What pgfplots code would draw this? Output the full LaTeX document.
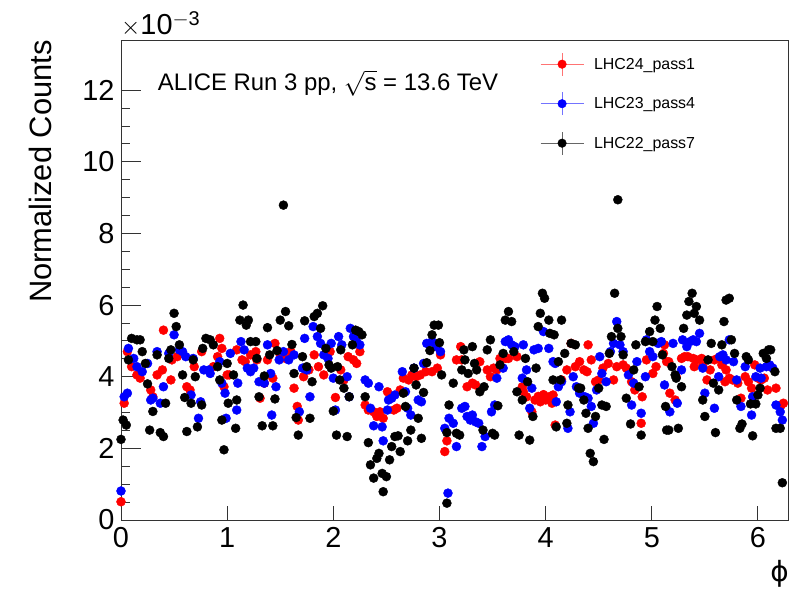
\documentclass[border=0pt]{standalone}
\usepackage{pgfplots}
\pgfplotsset{compat=1.18}
\usepackage{fontspec}
\setmainfont{Liberation Sans}
\newfontfamily\djv{DejaVu Sans}
\pgfplotstableread{
x y
0.00 0.51
0.03 3.26
0.06 4.70
0.10 4.28
0.15 4.05
0.18 3.96
0.28 3.63
0.30 3.44
0.34 4.05
0.39 4.19
0.40 5.30
0.47 3.91
0.48 4.47
0.53 4.56
0.62 3.72
0.65 3.63
0.69 4.28
0.76 4.70
0.87 4.28
0.91 4.56
0.93 5.07
0.95 4.79
0.97 3.72
1.00 4.05
1.02 4.05
1.09 4.75
1.14 4.47
1.17 4.42
1.22 4.61
1.27 4.70
1.28 4.47
1.31 3.40
1.35 3.82
1.38 4.47
1.43 3.96
1.45 4.93
1.50 4.61
1.55 4.51
1.60 4.70
1.63 3.68
1.66 3.17
1.67 2.79
1.72 4.00
1.77 4.19
1.82 4.61
1.86 4.28
1.91 4.05
1.97 4.70
2.02 3.42
2.07 4.19
2.10 3.91
2.14 4.56
2.19 4.47
2.22 4.37
2.25 4.70
2.30 3.21
2.33 3.07
2.38 3.02
2.41 2.89
2.44 3.02
2.47 2.84
2.51 3.58
2.54 3.40
2.57 3.07
2.60 3.12
2.63 3.63
2.66 3.96
2.71 3.91
2.74 4.05
2.78 4.00
2.82 4.05
2.87 4.14
2.93 4.14
2.98 4.24
3.01 4.61
3.05 1.91
3.07 2.21
3.16 4.47
3.20 4.84
3.21 4.47
3.26 3.72
3.31 3.82
3.34 3.77
3.38 4.42
3.45 4.19
3.48 4.00
3.51 4.24
3.54 4.19
3.57 4.51
3.62 4.51
3.65 4.51
3.73 4.56
3.78 3.72
3.79 3.58
3.82 3.44
3.87 3.02
3.90 3.35
3.93 3.45
3.95 3.30
3.98 3.50
4.00 3.35
4.03 3.44
4.06 3.26
4.07 3.49
4.09 2.65
4.15 3.91
4.20 4.19
4.24 4.93
4.28 4.28
4.32 4.42
4.36 4.19
4.39 4.14
4.40 4.89
4.43 4.47
4.47 3.86
4.50 3.91
4.54 4.24
4.59 4.37
4.64 3.91
4.67 4.28
4.73 4.33
4.76 4.24
4.81 3.86
4.84 3.63
4.90 2.70
4.91 3.44
4.95 4.47
5.01 4.09
5.04 4.28
5.11 4.65
5.12 4.89
5.14 4.42
5.16 4.42
5.17 3.54
5.22 3.35
5.23 4.00
5.28 4.51
5.31 4.56
5.34 4.56
5.39 4.51
5.40 4.28
5.42 4.47
5.47 4.51
5.48 4.33
5.52 3.91
5.55 4.19
5.59 4.47
5.62 4.51
5.66 4.33
5.69 3.86
5.70 4.19
5.73 3.96
5.76 3.91
5.81 3.82
5.84 3.40
5.88 4.00
5.91 3.86
5.94 3.68
5.97 4.33
6.00 3.96
6.03 3.91
6.06 3.96
6.09 3.63
6.12 4.28
6.17 3.68
6.22 3.21
6.24 3.26
}\redtab
\pgfplotstableread{
x y
0.00 0.81
0.03 3.44
0.06 3.54
0.07 4.79
0.12 4.51
0.15 4.28
0.20 4.14
0.25 4.37
0.28 3.35
0.30 3.40
0.34 4.70
0.37 3.26
0.40 3.72
0.45 4.65
0.50 5.17
0.55 4.75
0.58 4.70
0.61 4.56
0.66 3.49
0.68 4.51
0.73 2.84
0.75 3.30
0.78 4.19
0.83 4.19
0.84 4.09
0.93 4.42
0.95 3.82
0.98 3.54
0.99 2.84
1.03 4.65
1.09 3.07
1.10 3.82
1.13 4.98
1.16 4.75
1.19 4.24
1.22 4.14
1.25 4.24
1.30 3.86
1.35 3.82
1.38 4.89
1.41 4.09
1.42 2.93
1.46 3.72
1.49 4.47
1.53 4.70
1.58 4.47
1.63 4.61
1.68 3.02
1.71 4.24
1.73 5.07
1.75 4.19
1.78 3.44
1.81 5.40
1.85 5.12
1.88 4.93
1.91 4.61
1.95 4.51
1.98 4.93
2.00 3.96
2.02 3.07
2.05 5.12
2.08 4.89
2.13 4.00
2.15 3.44
2.16 5.35
2.19 5.12
2.22 4.98
2.25 4.89
2.30 3.91
2.33 3.82
2.35 3.12
2.38 2.63
2.43 3.72
2.46 2.60
2.47 2.21
2.51 3.07
2.52 3.35
2.55 3.40
2.58 3.49
2.65 4.14
2.68 3.58
2.70 3.12
2.73 2.93
2.76 4.24
2.80 3.35
2.83 3.30
2.85 4.37
2.88 4.93
2.93 4.98
2.97 4.84
3.01 4.70
3.05 2.56
3.08 0.75
3.09 2.84
3.13 2.70
3.16 2.05
3.21 3.12
3.24 3.17
3.26 2.89
3.29 2.79
3.31 2.93
3.34 2.74
3.37 2.70
3.40 2.05
3.43 2.33
3.49 3.02
3.52 3.21
3.54 3.96
3.60 4.24
3.62 4.98
3.65 5.03
3.68 4.89
3.71 4.84
3.78 3.96
3.79 4.89
3.82 4.19
3.85 3.12
3.87 3.68
3.89 4.75
3.93 4.79
3.98 5.26
4.03 4.79
4.07 4.42
4.09 4.37
4.10 3.30
4.12 3.72
4.15 3.86
4.21 2.56
4.23 3.02
4.26 4.00
4.29 3.72
4.32 3.54
4.37 3.44
4.40 3.40
4.43 3.17
4.45 2.70
4.48 3.63
4.51 4.56
4.53 4.09
4.57 3.86
4.61 4.70
4.64 4.93
4.67 5.54
4.70 4.89
4.73 4.70
4.78 4.05
4.81 3.21
4.83 3.82
4.86 4.42
4.90 2.98
4.94 4.00
4.95 5.03
4.98 4.70
5.01 4.56
5.06 4.93
5.09 4.98
5.12 3.77
5.17 3.02
5.20 4.93
5.24 3.26
5.28 4.19
5.29 5.03
5.33 4.84
5.36 4.98
5.39 5.03
5.42 4.98
5.45 5.21
5.48 4.24
5.50 3.54
5.59 3.12
5.63 4.00
5.64 4.56
5.67 4.61
5.70 4.47
5.73 5.03
5.77 4.42
5.80 3.91
5.84 3.17
5.88 4.28
5.94 2.93
5.95 3.44
5.98 4.00
6.02 4.24
6.03 3.96
6.08 4.28
6.11 4.33
6.14 4.24
6.17 3.21
6.21 3.02
6.23 2.79
}\bluetab
\pgfplotstableread{
x y
0.00 2.25
0.02 2.79
0.05 2.65
0.07 4.47
0.10 5.07
0.15 5.03
0.18 5.03
0.20 4.70
0.23 4.37
0.25 3.80
0.27 2.51
0.30 3.03
0.34 4.61
0.37 2.44
0.40 2.33
0.42 3.26
0.45 4.51
0.47 4.75
0.50 5.77
0.52 5.40
0.55 4.89
0.58 4.05
0.60 3.42
0.62 2.47
0.66 3.26
0.68 4.47
0.70 4.00
0.72 2.60
0.76 3.21
0.77 4.79
0.80 5.07
0.84 5.03
0.87 4.89
0.91 4.28
0.93 3.91
0.95 2.79
0.97 1.96
1.00 4.37
1.01 3.26
1.06 4.05
1.08 2.56
1.09 3.35
1.12 5.58
1.15 6.00
1.18 5.44
1.20 5.58
1.22 4.98
1.27 4.98
1.28 4.51
1.30 3.44
1.33 2.63
1.35 4.02
1.38 5.37
1.40 4.61
1.43 2.63
1.45 3.38
1.47 4.73
1.50 5.58
1.53 8.79
1.55 5.82
1.58 5.42
1.61 4.90
1.63 4.09
1.65 2.86
1.67 2.37
1.71 4.56
1.73 5.56
1.75 4.28
1.78 2.84
1.80 3.86
1.82 5.68
1.85 5.77
1.88 5.35
1.90 5.98
1.93 4.79
1.96 4.33
1.98 4.24
2.00 3.04
2.03 2.37
2.04 4.28
2.06 3.91
2.07 4.75
2.10 3.68
2.13 2.33
2.15 3.44
2.18 4.89
2.21 5.30
2.24 5.26
2.27 5.17
2.30 3.44
2.33 2.16
2.35 1.54
2.38 1.17
2.41 1.72
2.43 1.86
2.46 1.30
2.47 0.79
2.50 1.21
2.53 1.68
2.55 2.05
2.58 2.33
2.61 2.35
2.63 1.91
2.66 3.54
2.68 3.17
2.70 2.21
2.73 2.51
2.76 4.24
2.78 3.77
2.80 2.84
2.83 2.28
2.85 3.56
2.88 4.39
2.91 4.73
2.93 5.17
2.95 5.44
2.99 5.44
3.00 4.95
3.02 4.05
3.07 0.47
3.07 2.44
3.09 3.21
3.13 3.82
3.16 2.42
3.19 2.37
3.21 4.19
3.23 4.75
3.24 4.47
3.27 4.09
3.31 4.84
3.33 4.37
3.35 4.19
3.38 3.58
3.41 2.51
3.42 3.72
3.45 4.75
3.48 5.03
3.50 2.42
3.52 2.37
3.55 3.19
3.57 4.33
3.60 4.65
3.62 5.58
3.65 5.82
3.68 5.54
3.70 4.70
3.73 3.58
3.75 2.37
3.78 3.35
3.81 4.51
3.83 3.86
3.85 2.23
3.88 2.89
3.91 4.24
3.93 5.40
3.95 5.77
3.97 6.33
3.99 6.19
4.03 5.58
4.04 5.21
4.07 3.91
4.08 5.17
4.10 2.60
4.12 4.42
4.14 3.91
4.15 5.58
4.18 4.65
4.20 2.70
4.21 3.21
4.24 4.93
4.28 4.89
4.31 3.68
4.33 3.68
4.36 3.35
4.38 2.98
4.40 2.56
4.42 1.86
4.45 1.63
4.47 2.89
4.50 3.68
4.53 3.21
4.55 2.25
4.57 3.17
4.60 4.65
4.62 5.12
4.65 6.33
4.68 8.94
4.68 5.35
4.71 5.12
4.73 4.61
4.76 3.40
4.80 2.68
4.83 4.19
4.85 4.89
4.88 3.72
4.90 2.37
4.94 4.98
4.98 5.26
5.01 4.98
5.03 5.58
5.05 5.96
5.08 5.35
5.10 4.61
5.13 3.17
5.14 2.51
5.16 2.51
5.19 4.28
5.22 4.05
5.23 3.96
5.25 2.56
5.28 3.72
5.30 5.35
5.33 5.72
5.35 6.10
5.38 6.33
5.40 5.77
5.42 5.96
5.45 5.58
5.48 3.35
5.50 2.89
5.53 4.47
5.56 4.93
5.58 3.82
5.60 2.44
5.63 3.63
5.66 4.89
5.68 5.54
5.70 6.14
5.73 6.19
5.75 5.03
5.78 4.65
5.80 3.35
5.83 2.56
5.85 2.68
5.89 4.56
5.91 4.47
5.93 3.24
5.95 2.35
5.98 3.24
6.00 3.49
6.02 3.68
6.05 4.65
6.08 4.51
6.10 4.75
6.12 4.75
6.16 4.14
6.17 2.56
6.21 2.56
6.23 1.04
}\blacktab
\begin{document}
\begin{tikzpicture}
\begin{axis}[
  scale only axis,
  width=667bp, height=480bp,
  xmin=0, xmax=6.2832,
  ymin=0, ymax=13.4,
  axis line style={line width=0.9bp, black!80},
  xtick=\empty,
  minor xtick={0.2,0.4,0.6,0.8,1.2,1.4,1.6,1.8,2.2,2.4,2.6,2.8,3.2,3.4,3.6,3.8,4.2,4.4,4.6,4.8,5.2,5.4,5.6,5.8,6.2},
  extra x ticks={0,1,2,3,4,5,6},
  extra x tick style={major tick length=14bp},
  ytick={0,2,...,12},
  minor y tick num=3,
  major tick length=20bp, minor tick length=8.5bp,
  tick align=inside,
  xtick pos=bottom, ytick pos=left,
  tick style={line width=0.9bp, black!80},
  ticklabel style={font=\fontsize{29}{29}\selectfont},
  /pgf/number format/assume math mode=true,
  xticklabel style={yshift=-4bp},
  yticklabel style={xshift=-3bp},
  legend cell align=left,
  legend style={draw=none, fill=none, at={(rel axis cs:0.628,0.975)}, anchor=north west,
    font=\fontsize{16}{16}\selectfont, row sep=15.5bp, inner sep=0pt,
    nodes={inner sep=2bp}},
  clip=true,
]
\addplot[only marks, mark=*, mark size=4.5bp, color=red,
  legend image code/.code={\draw[red!55, line width=1bp] (0bp,0bp) -- (43bp,0bp);
    \draw[red!55, line width=1bp] (21.5bp,-11.5bp) -- (21.5bp,11.5bp);
    \fill[red] (21.5bp,0bp) circle (4.3bp);}]
  table[x=x,y=y] {\redtab};
\addlegendentry{\hspace{8bp}LHC24\_pass1}
\addplot[only marks, mark=*, mark size=4.5bp, color=blue,
  legend image code/.code={\draw[blue!55, line width=1bp] (0bp,0bp) -- (43bp,0bp);
    \draw[blue!55, line width=1bp] (21.5bp,-11.5bp) -- (21.5bp,11.5bp);
    \fill[blue] (21.5bp,0bp) circle (4.3bp);}]
  table[x=x,y=y] {\bluetab};
\addlegendentry{\hspace{8bp}LHC23\_pass4}
\addplot[only marks, mark=*, mark size=4.5bp, color=black,
  legend image code/.code={\draw[black!60, line width=1bp] (0bp,0bp) -- (43bp,0bp);
    \draw[black!60, line width=1bp] (21.5bp,-11.5bp) -- (21.5bp,11.5bp);
    \fill[black] (21.5bp,0bp) circle (4.3bp);}]
  table[x=x,y=y] {\blacktab};
\addlegendentry{\hspace{8bp}LHC22\_pass7}
\node[anchor=west, font=\fontsize{24}{24}\selectfont] at (rel axis cs:0.05,0.91)
  {ALICE Run 3 pp, \(\sqrt{\hbox{s}}\) = 13.6 TeV};
\end{axis}
\node[anchor=south west, inner sep=0pt, font=\fontsize{29}{29}\selectfont]
  at ([yshift=3bp]current axis.north west) {\(\times\)10\(^{\hbox{\fontsize{20}{20}\selectfont $-$3}}\)};
\node[rotate=90, anchor=south east, inner sep=0pt, font=\fontsize{31}{31}\selectfont]
  at ([xshift=-69bp]current axis.north west) {Normalized Counts};
\node[anchor=north east, inner sep=0pt, font=\djv\fontsize{28}{28}\selectfont]
  at ([xshift=1bp,yshift=-40bp]current axis.south east) {ϕ};
\pgfresetboundingbox
\path ([shift={(-121bp,-71bp)}]current axis.south west) rectangle ([shift={(17bp,40bp)}]current axis.north east);
\end{tikzpicture}
\end{document}
